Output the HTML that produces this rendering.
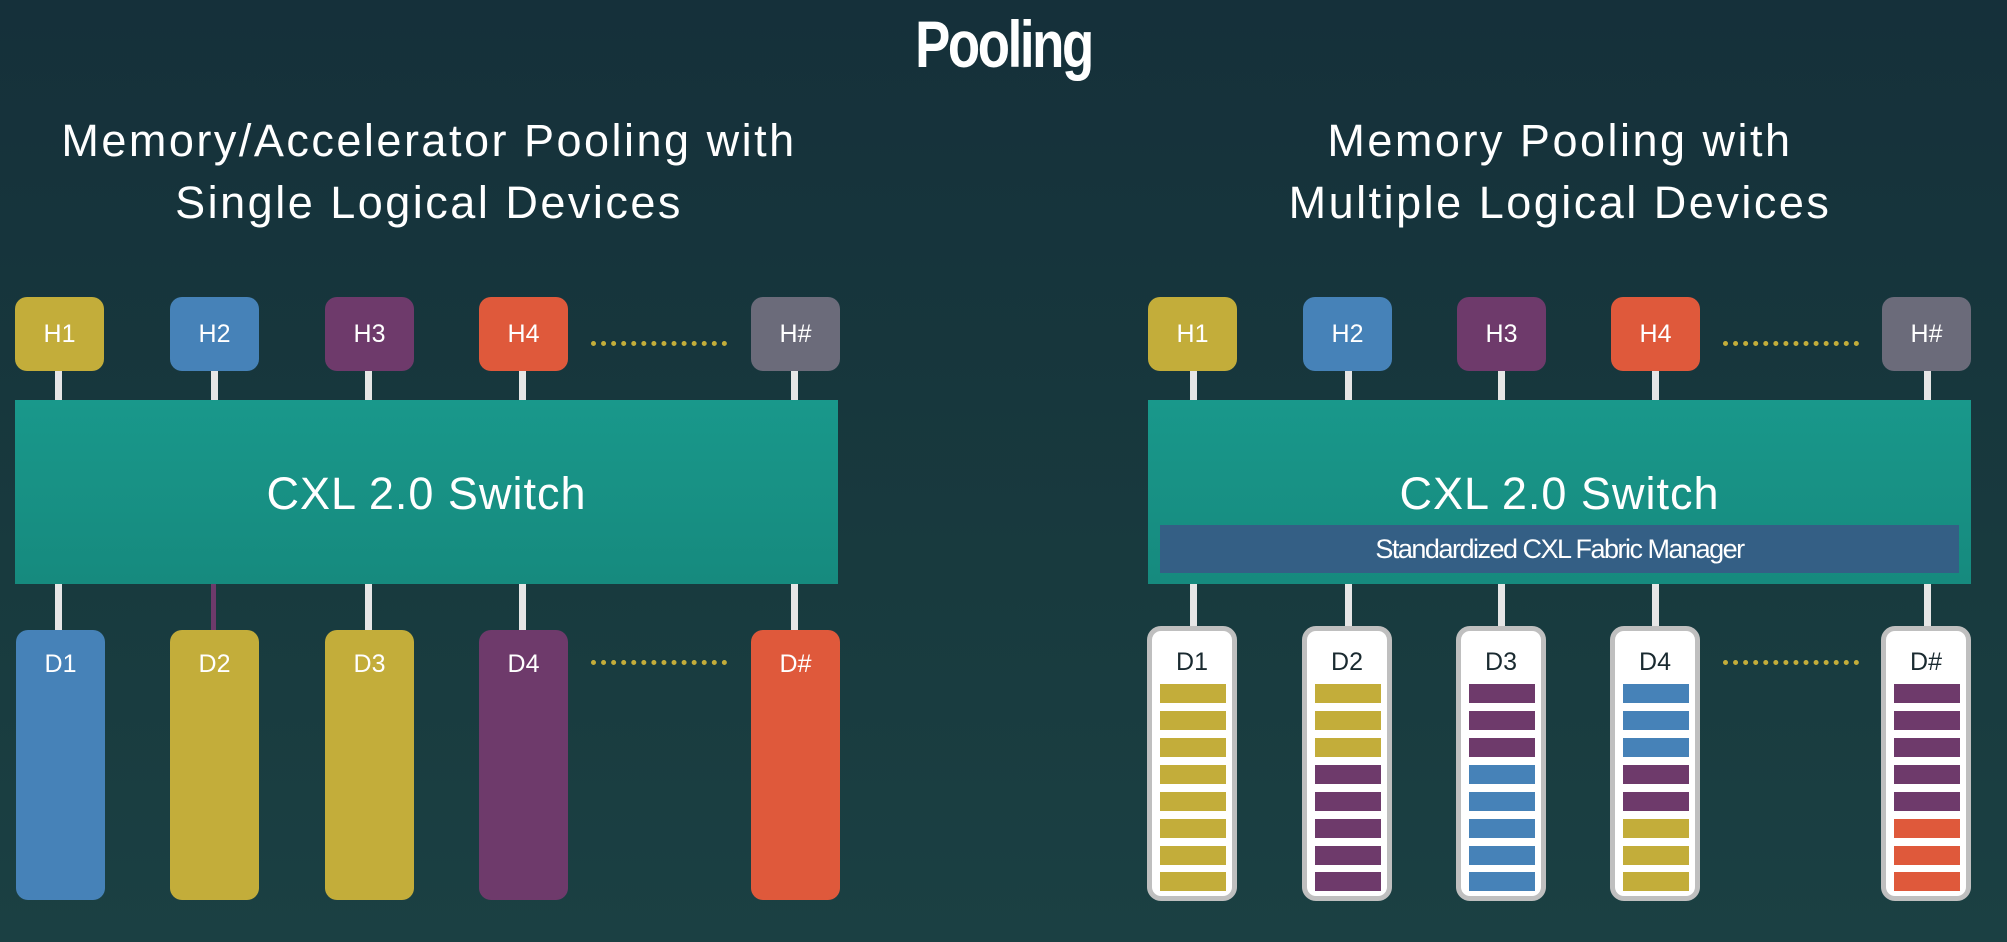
<!DOCTYPE html>
<html><head><meta charset="utf-8"><style>
*{margin:0;padding:0;box-sizing:border-box}
body{width:2007px;height:942px;overflow:hidden;background:linear-gradient(180deg,#15303a 0%,#183a3e 60%,#1b4043 100%);font-family:"Liberation Sans",sans-serif;color:#fff;position:relative}
.a{position:absolute}
.t{position:absolute;text-align:center;white-space:nowrap}
.h{position:absolute;top:297px;width:89px;height:74px;border-radius:12px;font-size:25px;display:flex;align-items:center;justify-content:center}
.d{position:absolute;top:630px;width:89px;height:270px;border-radius:12px;font-size:25px;text-align:center;padding-top:20px}
.w{position:absolute;width:7px;background:#e6e6e6}
.sw{position:absolute;top:400px;height:184px;background:linear-gradient(180deg,#19988b,#168a7e)}
.dots{position:absolute;height:0;border-top:5px dotted #c3ad3a;width:136px}
.m{position:absolute;top:626px;width:90px;height:275px;border-radius:14px;background:#fff;border:5px solid #bfbfbf;color:#1a2a30;font-size:25px;text-align:center;padding-top:17px}
.m i{display:block;position:absolute;left:8px;width:66px;height:19px}
.Y{background:#c3ad3a}.B{background:#4682b8}.P{background:#6e3a6b}.O{background:#df593b}.G{background:#6b6b7a}
</style></head><body>
<div class="t" style="left:0;width:2007px;top:6px;font-size:66px;font-weight:bold;letter-spacing:-3px;transform:scaleX(0.8)">Pooling</div>
<div class="t" style="left:0;width:858px;top:110px;font-size:45px;line-height:62px;letter-spacing:2.5px">Memory/Accelerator Pooling with<br>Single Logical Devices</div>
<div class="t" style="left:1140px;width:840px;top:110px;font-size:45px;line-height:62px;letter-spacing:2.5px">Memory Pooling with<br>Multiple Logical Devices</div>

<!-- left -->
<div class="w" style="left:55px;top:370px;height:32px"></div>
<div class="w" style="left:211px;top:370px;height:32px"></div>
<div class="w" style="left:365px;top:370px;height:32px"></div>
<div class="w" style="left:519px;top:370px;height:32px"></div>
<div class="w" style="left:791px;top:370px;height:32px"></div>
<div class="w" style="left:55px;top:582px;height:50px"></div>
<div class="w" style="left:211px;top:582px;height:50px;background:#6e3a6b;width:5px"></div>
<div class="w" style="left:365px;top:582px;height:50px"></div>
<div class="w" style="left:519px;top:582px;height:50px"></div>
<div class="w" style="left:791px;top:582px;height:50px"></div>
<div class="h Y" style="left:15px">H1</div>
<div class="h B" style="left:170px">H2</div>
<div class="h P" style="left:325px">H3</div>
<div class="h O" style="left:479px">H4</div>
<div class="h G" style="left:751px">H#</div>
<div class="dots" style="left:591px;top:341px"></div>
<div class="sw" style="left:15px;width:823px"><div class="t" style="left:0;width:100%;top:68px;font-size:45px;letter-spacing:1px">CXL 2.0 Switch</div></div>
<div class="d B" style="left:16px">D1</div>
<div class="d Y" style="left:170px">D2</div>
<div class="d Y" style="left:325px">D3</div>
<div class="d P" style="left:479px">D4</div>
<div class="dots" style="left:591px;top:660px"></div>
<div class="d O" style="left:751px">D#</div>

<!-- right -->
<div class="w" style="left:1190px;top:370px;height:32px"></div>
<div class="w" style="left:1345px;top:370px;height:32px"></div>
<div class="w" style="left:1498px;top:370px;height:32px"></div>
<div class="w" style="left:1652px;top:370px;height:32px"></div>
<div class="w" style="left:1924px;top:370px;height:32px"></div>
<div class="w" style="left:1190px;top:582px;height:46px"></div>
<div class="w" style="left:1345px;top:582px;height:46px"></div>
<div class="w" style="left:1498px;top:582px;height:46px"></div>
<div class="w" style="left:1652px;top:582px;height:46px"></div>
<div class="w" style="left:1924px;top:582px;height:46px"></div>
<div class="h Y" style="left:1148px">H1</div>
<div class="h B" style="left:1303px">H2</div>
<div class="h P" style="left:1457px">H3</div>
<div class="h O" style="left:1611px">H4</div>
<div class="h G" style="left:1882px">H#</div>
<div class="dots" style="left:1723px;top:341px"></div>
<div class="sw" style="left:1148px;width:823px"><div class="t" style="left:0;width:100%;top:68px;font-size:45px;letter-spacing:1px">CXL 2.0 Switch</div>
<div class="a" style="left:12px;top:125px;width:799px;height:48px;background:#345f85;font-size:27px;text-align:center;line-height:48px;letter-spacing:-1.5px">Standardized CXL Fabric Manager</div></div>

<div class="m" style="left:1147px">D1
<i class="Y" style="top:53px"></i><i class="Y" style="top:80px"></i><i class="Y" style="top:107px"></i><i class="Y" style="top:134px"></i><i class="Y" style="top:161px"></i><i class="Y" style="top:188px"></i><i class="Y" style="top:215px"></i><i class="Y" style="top:241px"></i></div>
<div class="m" style="left:1302px">D2
<i class="Y" style="top:53px"></i><i class="Y" style="top:80px"></i><i class="Y" style="top:107px"></i><i class="P" style="top:134px"></i><i class="P" style="top:161px"></i><i class="P" style="top:188px"></i><i class="P" style="top:215px"></i><i class="P" style="top:241px"></i></div>
<div class="m" style="left:1456px">D3
<i class="P" style="top:53px"></i><i class="P" style="top:80px"></i><i class="P" style="top:107px"></i><i class="B" style="top:134px"></i><i class="B" style="top:161px"></i><i class="B" style="top:188px"></i><i class="B" style="top:215px"></i><i class="B" style="top:241px"></i></div>
<div class="m" style="left:1610px">D4
<i class="B" style="top:53px"></i><i class="B" style="top:80px"></i><i class="B" style="top:107px"></i><i class="P" style="top:134px"></i><i class="P" style="top:161px"></i><i class="Y" style="top:188px"></i><i class="Y" style="top:215px"></i><i class="Y" style="top:241px"></i></div>
<div class="dots" style="left:1723px;top:660px"></div>
<div class="m" style="left:1881px">D#
<i class="P" style="top:53px"></i><i class="P" style="top:80px"></i><i class="P" style="top:107px"></i><i class="P" style="top:134px"></i><i class="P" style="top:161px"></i><i class="O" style="top:188px"></i><i class="O" style="top:215px"></i><i class="O" style="top:241px"></i></div>
</body></html>
